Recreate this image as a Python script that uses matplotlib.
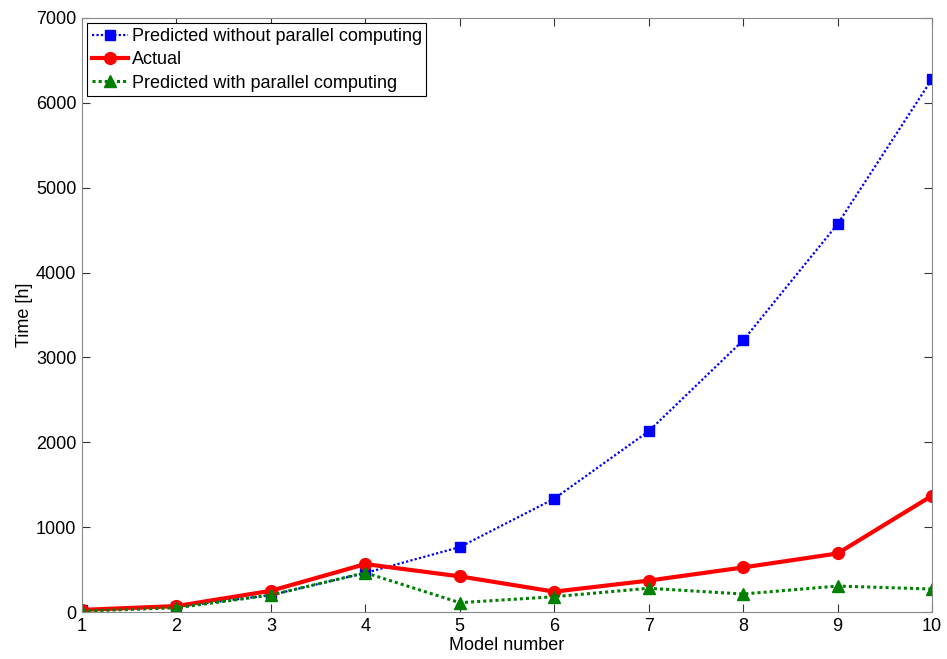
import numpy as np
import matplotlib.pyplot as plt

plt.rcParams['font.family'] = ['Liberation Sans', 'DejaVu Sans']

model_number = [1, 2, 3, 4, 5, 6, 7, 8, 9, 10]
predicted_no_parallel = [25, 60, 200, 460, 765, 1335, 2130, 3200, 4570, 6280]
actual = [25, 70, 250, 565, 420, 240, 370, 525, 690, 1370]
predicted_parallel = [10, 50, 200, 463, 110, 180, 280, 212, 306, 271]

fig = plt.figure(figsize=(9.47, 6.59), dpi=100)
ax = fig.add_axes([0.0866, 0.0713, 0.8975, 0.9014])

ax.plot(model_number, predicted_no_parallel, color='#0000ff', linestyle=(0, (1, 1)), linewidth=1.6,
        marker='s', markersize=7.5, label='Predicted without parallel computing')
ax.plot(model_number, actual, color='#ff0000', linestyle='-', linewidth=3,
        marker='o', markersize=8.5, label='Actual')
ax.plot(model_number, predicted_parallel, color='#008000', linestyle=(0, (1, 1)), linewidth=2.2,
        marker='^', markersize=8.5, label='Predicted with parallel computing')

ax.set_xlim(1, 10)
ax.set_ylim(0, 7000)
ax.set_xticks(model_number)
ax.set_yticks(np.arange(0, 7001, 1000))
ax.tick_params(direction='in', top=True, right=True, labelsize=13, length=6,
               color='#333333', pad=4)
for s in ax.spines.values():
    s.set_color('#888888')

ax.set_xlabel('Model number', fontsize=13, labelpad=2)
ax.set_ylabel('Time [h]', fontsize=13, labelpad=2)

leg = ax.legend(loc='upper left', fontsize=13, fancybox=False, framealpha=1,
                edgecolor='black', borderaxespad=0.3, handlelength=2.0,
                handletextpad=0.2, borderpad=0.25, labelspacing=0.35)
leg.get_frame().set_linewidth(0.8)

plt.savefig('out.png', dpi=100)
